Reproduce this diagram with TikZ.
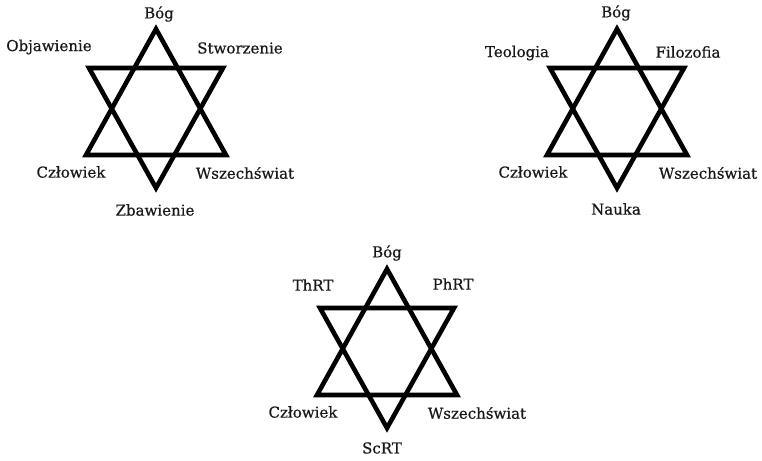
\documentclass[tikz,border=0pt]{standalone}
\usepackage{fontspec}
\setmainfont{DejaVu Serif}
\newfontfamily\lblfont{DejaVu Serif}[FakeBold=0.6]
\begin{document}
\begin{tikzpicture}[x=1pt,y=-1pt,
  starline/.style={line width=4.6pt,line join=miter,black},
  lbl/.style={font=\lblfont\fontsize{15}{17}\selectfont,text=black!90,inner sep=0pt},
  hexstar/.pic={
    \coordinate (-t) at (0,0);
    \coordinate (-bl) at (-70,126);
    \coordinate (-br) at (70,126);
    \coordinate (-tl) at (-67,39);
    \coordinate (-tr) at (67,39);
    \coordinate (-b) at (0,159);
    \draw[starline] (-t) -- (-bl) -- (-br) -- cycle;
    \draw[starline] (-tl) -- (-tr) -- (-b) -- cycle;
  }]
\fill[white] (0,0) rectangle (762,460);
\useasboundingbox (0,0) rectangle (762,460);

% first star: revelation, creation, salvation
\pic (s1) at (156,29) {hexstar};
\node[lbl] (s1god) at (159,14) {Bóg};
\node[lbl] (s1rev) at (49,47) {Objawienie};
\node[lbl] (s1cre) at (240,48) {Stworzenie};
\node[lbl] (s1man) at (71,172) {Człowiek};
\node[lbl] (s1uni) at (245,173) {Wszechświat};
\node[lbl] (s1sal) at (155,210) {Zbawienie};

% second star: theology, philosophy, science
\pic (s2) at (617,29) {hexstar};
\node[lbl] (s2god) at (616,13) {Bóg};
\node[lbl] (s2the) at (517,53) {Teologia};
\node[lbl] (s2phi) at (688,52) {Filozofia};
\node[lbl] (s2man) at (533,172) {Człowiek};
\node[lbl] (s2uni) at (708,173) {Wszechświat};
\node[lbl] (s2sci) at (616,209) {Nauka};

% third star: ThRT, PhRT, ScRT
\pic (s3) at (387,269) {hexstar};
\node[lbl] (s3god) at (387,253) {Bóg};
\node[lbl] (s3th) at (313,285) {ThRT};
\node[lbl] (s3ph) at (453,284) {PhRT};
\node[lbl] (s3man) at (303,412) {Człowiek};
\node[lbl] (s3uni) at (477,413) {Wszechświat};
\node[lbl] (s3sc) at (382,448) {ScRT};
\end{tikzpicture}
\end{document}
